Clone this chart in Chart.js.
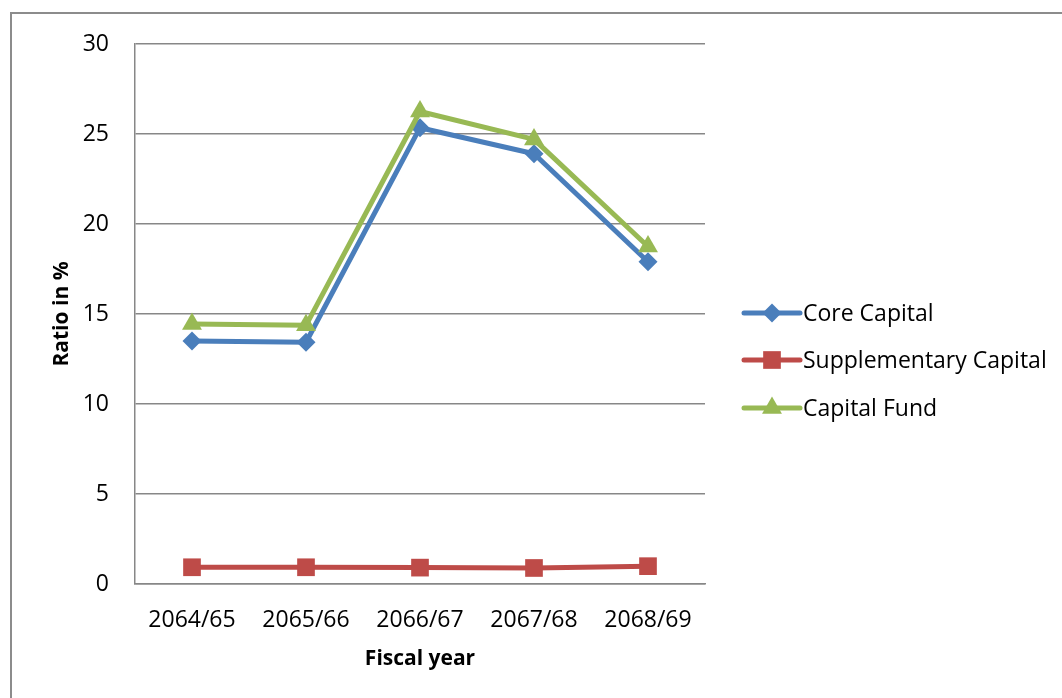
<!DOCTYPE html>
<html>
<head>
<meta charset="utf-8">
<script src="https://cdn.jsdelivr.net/npm/chart.js@4/dist/chart.umd.min.js"></script>
<style>
  html, body { margin: 0; padding: 0; background: #ffffff; overflow: hidden; }
  #wrap { position: relative; width: 1062px; height: 698px; }
</style>
</head>
<body>
<div id="wrap"><canvas id="c" width="1062" height="698"></canvas></div>
<script>
// Fiscal years and capital adequacy ratios (%)
const fiscalYears = ['2064/65', '2065/66', '2066/67', '2067/68', '2068/69'];
const coreCapital = [13.5, 13.43, 25.35, 23.9, 17.9];
const supplementaryCapital = [0.93, 0.93, 0.91, 0.89, 0.99];
const capitalFund = [14.45, 14.37, 26.25, 24.7, 18.75];
const yTicks = [0, 5, 10, 15, 20, 25, 30];

const FONT = '"Open Sans", "Liberation Sans", sans-serif';
const GRID = '#878787';

// White background and outer frame
const framePlugin = {
  id: 'frame',
  beforeDraw(chart) {
    const ctx = chart.ctx;
    ctx.save();
    ctx.fillStyle = '#ffffff';
    ctx.fillRect(0, 0, chart.width, chart.height);
    ctx.strokeStyle = '#8c8c8c';
    ctx.lineWidth = 2;
    ctx.strokeRect(11, 13, chart.width + 20, chart.height + 20);
    ctx.restore();
  }
};

// Legend with a line sample and marker for each series
const lineLegend = {
  id: 'lineLegend',
  afterDraw(chart) {
    const ctx = chart.ctx;
    const x0 = 744, x1 = 800, textX = 803;
    const rows = [313, 360, 408];
    chart.data.datasets.forEach((ds, i) => {
      const y = rows[i];
      ctx.save();
      ctx.strokeStyle = ds.borderColor;
      ctx.lineWidth = ds.borderWidth;
      ctx.lineCap = 'round';
      ctx.beginPath();
      ctx.moveTo(x0, y);
      ctx.lineTo(x1, y);
      ctx.stroke();
      ctx.fillStyle = ds.pointBackgroundColor;
      ctx.strokeStyle = ds.pointBorderColor;
      Chart.helpers.drawPoint(ctx, {
        pointStyle: ds.pointStyle,
        radius: ds.pointRadius,
        borderWidth: 0,
        rotation: 0
      }, (x0 + x1) / 2, y);
      ctx.fillStyle = '#000000';
      ctx.font = '23px ' + FONT;
      ctx.textAlign = 'left';
      ctx.textBaseline = 'middle';
      ctx.fillText(ds.label, textX, y + 1);
      ctx.restore();
    });
  }
};

function series(label, data, color, style, radius, order) {
  return {
    label, data, order,
    borderColor: color,
    backgroundColor: color,
    pointBackgroundColor: color,
    pointBorderColor: color,
    pointBorderWidth: 0,
    borderWidth: 5,
    borderJoinStyle: 'round',
    pointStyle: style,
    pointRadius: radius,
    pointHoverRadius: radius,
    tension: 0,
    clip: false
  };
}

new Chart(document.getElementById('c'), {
  type: 'line',
  data: {
    labels: fiscalYears,
    datasets: [
      series('Core Capital', coreCapital, '#4a7ebb', 'rectRot', 9.5, 2),
      series('Supplementary Capital', supplementaryCapital, '#be4b48', 'rect', 12.5, 1),
      series('Capital Fund', capitalFund, '#98b954', 'triangle', 11.5, 0)
    ]
  },
  options: {
    responsive: false,
    animation: false,
    events: [],
    layout: { padding: { top: 44, right: 357, bottom: 0, left: 0 } },
    plugins: { legend: { display: false }, tooltip: { enabled: false } },
    scales: {
      x: {
        offset: true,
        grid: { display: false, drawTicks: false },
        border: { display: true, color: GRID, width: 1.5 },
        ticks: { color: '#000000', font: { family: FONT, size: 23 }, padding: 23, maxRotation: 0 },
        title: { display: true, text: 'Fiscal year', color: '#000000',
                 font: { family: FONT, size: 21, weight: 'bold' }, padding: { top: 0, bottom: 26 } },
        afterFit(scale) { scale.height = 114; }
      },
      y: {
        min: 0, max: 30,
        afterBuildTicks(scale) { scale.ticks = yTicks.map(v => ({ value: v })); },
        grid: { color: GRID, lineWidth: 1.5, drawTicks: false },
        border: { display: true, color: GRID, width: 1.5 },
        ticks: { color: '#000000', font: { family: FONT, size: 23 }, padding: 26 },
        title: { display: true, text: 'Ratio in %', color: '#000000',
                 font: { family: FONT, size: 21, weight: 'bold' }, padding: { top: 49, bottom: 0 } },
        afterFit(scale) { scale.width = 135; }
      }
    }
  },
  plugins: [framePlugin, lineLegend]
});
</script>
</body>
</html>
